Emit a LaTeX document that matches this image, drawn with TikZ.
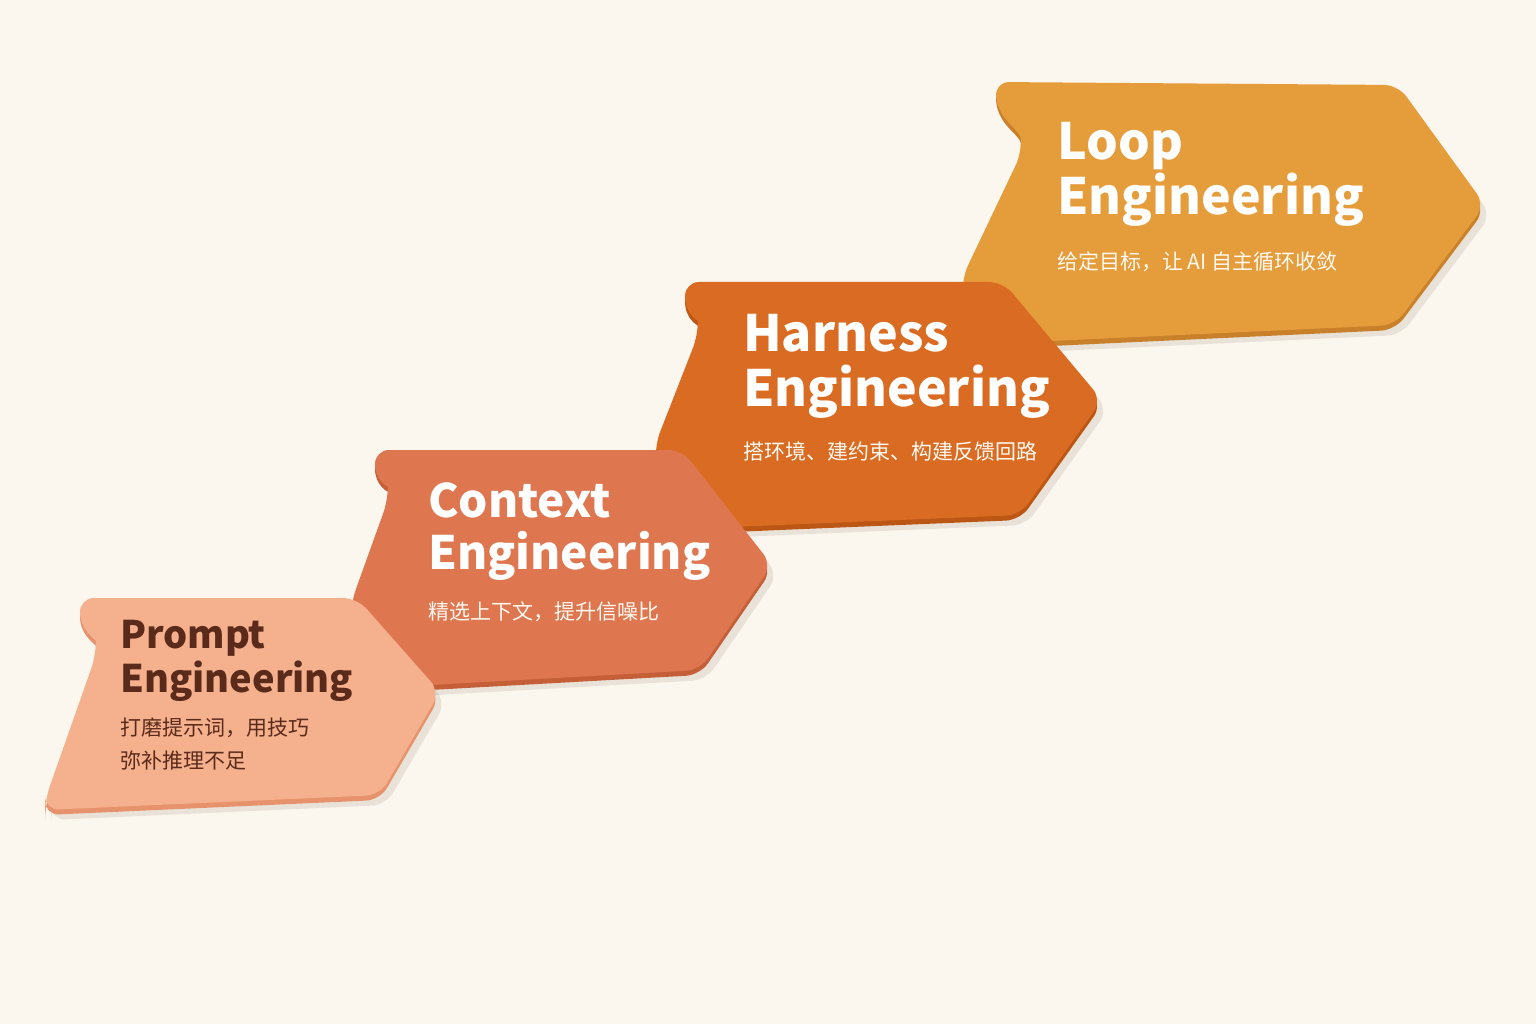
\documentclass[tikz,border=0pt]{standalone}
\usepackage{fontspec}
\setmainfont{Noto Sans CJK SC}
\begin{document}
\begin{tikzpicture}[x=1pt,y=-1pt,
  stp/.style={rounded corners=14pt},
  shadow/.style={fill=black!60!brown,opacity=0.10,rounded corners=14pt},
  ttl/.style={anchor=north west,align=left,font=\bfseries,inner sep=0pt},
  sub/.style={anchor=north west,align=left,inner sep=0pt,font=\fontsize{21}{33}\selectfont}]
\definecolor{bg}{HTML}{FBF6EE}
\definecolor{cP}{HTML}{F5B08E}\definecolor{eP}{HTML}{E6936D}
\definecolor{cC}{HTML}{DE7750}\definecolor{eC}{HTML}{C45F38}
\definecolor{cH}{HTML}{D96C22}\definecolor{eH}{HTML}{BB5614}
\definecolor{cL}{HTML}{E59C3A}\definecolor{eL}{HTML}{C9802A}
\definecolor{tP}{HTML}{5A2A1A}
\fill[bg] (0,0) rectangle (1536,1024);
\useasboundingbox (0,0) rectangle (1536,1024);
% Loop
\def\L{(995,82) .. controls (998,120) and (1020,130) .. (1022,152) -- (962,278) -- (965,345) -- (1395,325) -- (1485,205) -- (1398,85) -- cycle}
\fill[shadow] [shift={(6,10)}] \L;
\fill[eL,stp] [shift={(0,5)}] \L;
\fill[cL,stp] \L;
% Harness
\def\H{(685,282) .. controls (685,315) and (698,320) .. (698,335) -- (655,445) -- (660,530) -- (1020,515) -- (1102,400) -- (1003,282) -- cycle}
\fill[shadow] [shift={(6,10)}] \H;
\fill[eH,stp] [shift={(0,5)}] \H;
\fill[cH,stp] \H;
% Context
\def\C{(375,450) .. controls (375,480) and (388,488) .. (388,500) -- (352,600) -- (340,690) -- (700,670) -- (772,565) -- (682,450) -- cycle}
\fill[shadow] [shift={(6,10)}] \C;
\fill[eC,stp] [shift={(0,5)}] \C;
\fill[cC,stp] \C;
% Prompt
\def\P{(80,598) .. controls (80,630) and (96,640) .. (96,655) -- (45,800) -- (45,810) -- (380,795) -- (440,692) -- (357,598) -- cycle}
\fill[shadow] [shift={(6,10)}] \P;
\fill[eP,stp] [shift={(0,5)}] \P;
\fill[cP,stp] \P;
% texts
\node[ttl,text=white,font=\bfseries\fontsize{50}{55}\selectfont] (tL) at (1057,122) {Loop\\Engineering};
\node[sub,text=white!95!orange] (sL) at (1057,252) {给定目标，让 AI 自主循环收敛};
\node[ttl,text=white,font=\bfseries\fontsize{50}{55}\selectfont] (tH) at (743,314) {Harness\\Engineering};
\node[sub,text=white!95!orange] (sH) at (743,442) {搭环境、建约束、构建反馈回路};
\node[ttl,text=white,font=\bfseries\fontsize{46}{52}\selectfont] (tC) at (428,482) {Context\\Engineering};
\node[sub,text=white!95!orange] (sC) at (428,602) {精选上下文，提升信噪比};
\node[ttl,text=tP,font=\bfseries\fontsize{38}{44}\selectfont] (tP) at (120,620) {Prompt\\Engineering};
\node[sub,text=tP] (sP) at (120,718) {打磨提示词，用技巧\\弥补推理不足};
\end{tikzpicture}
\end{document}
